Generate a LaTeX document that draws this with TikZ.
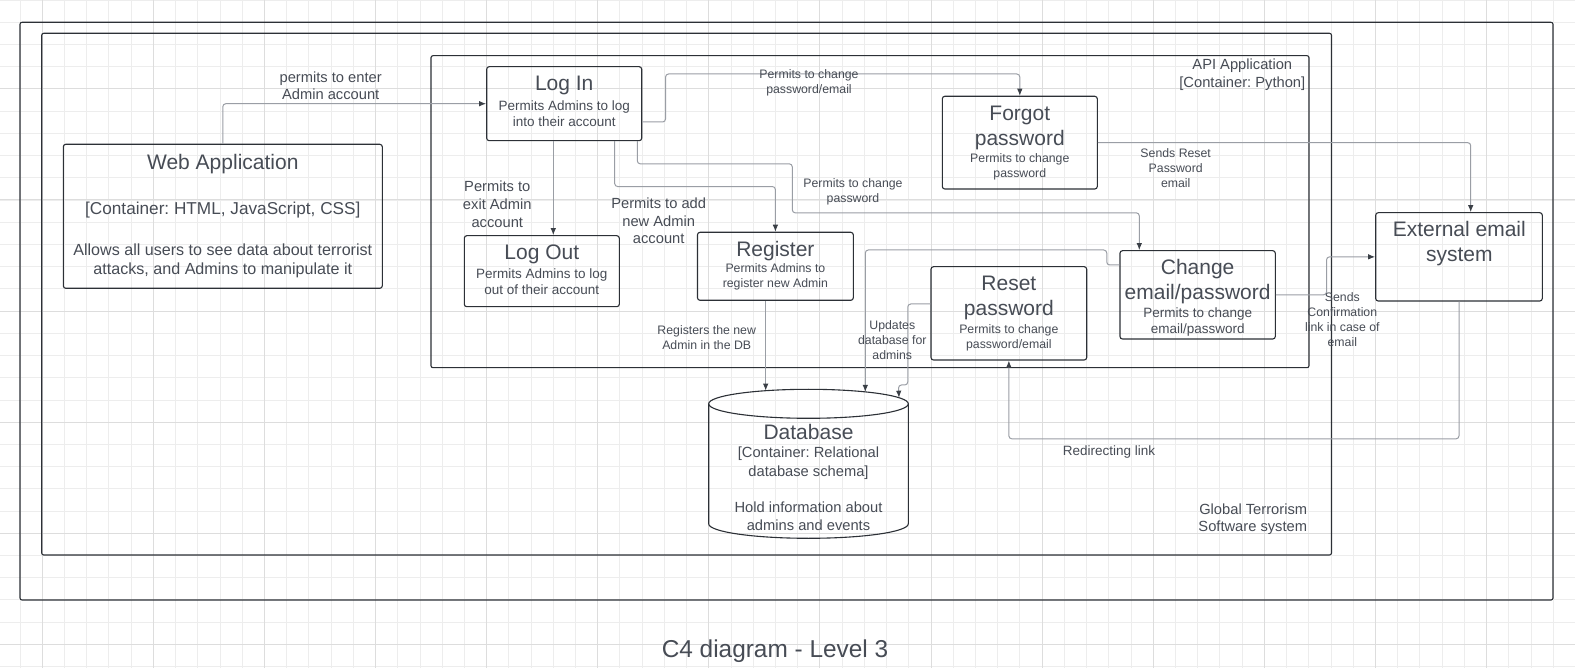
\documentclass[tikz,border=0pt]{standalone}
\usepackage{fontspec}
\setmainfont{Liberation Sans}
\usetikzlibrary{arrows.meta,calc}
\definecolor{txtc}{HTML}{474C55}
\definecolor{boxc}{HTML}{2C3036}
\definecolor{linec}{HTML}{9A9EA5}
\definecolor{arrc}{HTML}{3A3F46}
\definecolor{gridminor}{HTML}{EDEDED}
\definecolor{gridmajor}{HTML}{DDDDDD}
\frenchspacing
\begin{document}
\begin{tikzpicture}[x=1pt,y=-1pt,
  box/.style={draw=boxc, line width=1.1pt, rounded corners=2.5pt, inner sep=0pt},
  frame/.style={draw=boxc, line width=1.1pt, rounded corners=2pt},
  ttl/.style={text=txtc, align=center, inner sep=0pt, font=\fontsize{21}{25}\selectfont},
  dsc/.style={text=txtc, align=center, inner sep=0pt, font=\fontsize{13.5}{16}\selectfont},
  sdsc/.style={text=txtc, align=center, inner sep=0pt, font=\fontsize{12.3}{15}\selectfont},
  lbl/.style={text=txtc, align=center, inner sep=0pt, font=\fontsize{14.7}{17.6}\selectfont},
  conn/.style={draw=linec, line width=1pt, rounded corners=3pt, -{Latex[length=7pt,width=5.5pt,color=arrc]}}]
\useasboundingbox (0,0) rectangle (1575,668);
\fill[white] (0,0) rectangle (1575,668);
% grid
\begin{scope}
\clip (0,0) rectangle (1575,668);
\foreach \i in {0,...,70} \draw[gridminor, line width=0.9pt] (20+22.22*\i,0) -- (20+22.22*\i,668);
\foreach \j in {0,...,30} \draw[gridminor, line width=0.9pt] (0,22.22*\j) -- (1575,22.22*\j);
\foreach \i in {0,...,13} \draw[gridmajor, line width=0.9pt] (42.22+111.1*\i,0) -- (42.22+111.1*\i,668);
\foreach \j in {0,...,6} \draw[gridmajor, line width=0.9pt] (0,-22.3+111.1*\j) -- (1575,-22.3+111.1*\j);
\end{scope}
% containers
\draw[frame] (20,22.3) rectangle (1553,600);
\draw[frame] (41.7,33.3) rectangle (1331.5,555);
\draw[frame] (431,55.7) rectangle (1309,367.7);
\node[lbl] (apiT) at (1242.3,74.5) {API Application\\{}[Container: Python]};
\node[lbl, anchor=east, align=right] (sysT) at (1307.3,519.2) {Global Terrorism\\Software system};
% boxes
\node[box, minimum width=319pt, minimum height=144pt] (web) at (222.8,216.3) {};
\node[box, minimum width=155pt, minimum height=74pt] (login) at (564.2,103.7) {};
\node[box, minimum width=155pt, minimum height=71pt] (logout) at (541.8,271.2) {};
\node[box, minimum width=155.8pt, minimum height=68pt] (register) at (775.4,266.3) {};
\node[box, minimum width=155pt, minimum height=92.7pt] (forgot) at (1019.8,142.65) {};
\node[box, minimum width=155.7pt, minimum height=93.3pt] (reset) at (1008.85,313.35) {};
\node[box, minimum width=155.3pt, minimum height=88.3pt] (change) at (1197.65,294.85) {};
\node[box, minimum width=166.6pt, minimum height=88.3pt] (ext) at (1459,256.85) {};
\node[inner sep=0pt, minimum width=199.6pt, minimum height=149pt] (db) at (808.5,463.8) {};
% database cylinder
\draw[draw=boxc, line width=1.1pt] (708.7,403.8) -- (708.7,523.8) arc[start angle=180, end angle=360, x radius=99.8pt, y radius=14.5pt] -- (908.3,403.8);
\draw[draw=boxc, line width=1.1pt] (808.5,403.8) ellipse [x radius=99.8pt, y radius=14.5pt];
\coordinate (dbA) at (765.7,390.7);
\coordinate (dbB) at (865.3,391.9);
\coordinate (dbC) at (899,397.7);
% texts in boxes
\node[ttl] (webT) at (222.8,163.7) {Web Application};
\node[text=txtc, inner sep=0pt, font=\fontsize{17.2}{19.5}\selectfont] (webK) at (222.8,210) {[Container: HTML, JavaScript, CSS]};
\node[text=txtc, align=center, inner sep=0pt, font=\fontsize{16.1}{19.3}\selectfont] (webD) at (222.8,261) {Allows all users to see data about terrorist\\attacks, and Admins to manipulate it};
\node[ttl] (loginT) at (564.2,85.3) {Log In};
\node[dsc] (loginD) at (564.2,113.3) {Permits Admins to log\\into their account};
\node[ttl] (logoutT) at (541.8,254.3) {Log Out};
\node[dsc] (logoutD) at (541.8,282) {Permits Admins to log\\out of their account};
\node[ttl] (registerT) at (775.4,251) {Register};
\node[sdsc] (registerD) at (775.4,277.2) {Permits Admins to\\register new Admin};
\node[ttl] (forgotT) at (1019.8,127.8) {Forgot\\password};
\node[sdsc] (forgotD) at (1019.8,166.5) {Permits to change\\password};
\node[ttl] (resetT) at (1008.85,298.2) {Reset\\password};
\node[sdsc] (resetD) at (1008.85,337.5) {Permits to change\\password/email};
\node[ttl] (changeT) at (1197.65,281.8) {Change\\email/password};
\node[dsc] (changeD) at (1197.65,322) {Permits to change\\email/password};
\node[ttl] (extT) at (1459.3,243.7) {External email\\system};
\node[ttl] (dbT) at (808.5,431.7) {Database};
\node[lbl, font=\fontsize{14.7}{18.3}\selectfont] (dbK) at (808.5,463.2) {[Container: Relational\\database schema]};
\node[lbl, font=\fontsize{14.7}{17.7}\selectfont] (dbD) at (808.5,516.2) {Hold information about\\admins and events};
% connectors
\draw[conn] (web.north) |- (login.west);
\draw[conn] ([xshift=-10.9pt]login.south) -- ([xshift=-10.9pt]login.south |- logout.north);
\draw[conn] ([xshift=50.5pt]login.south) -- ++(0,45.3) -| (register.north);
\draw[conn] ([xshift=73.1pt]login.south) -- ++(0,22.6) -| ++(155,49) -| ([xshift=-58.35pt]change.north);
\draw[conn] ([yshift=-18.3pt]login.east) -- ++(23.3,0) -- ++(0,-48) -| (forgot.north);
\draw[conn] (forgot.east) -| ([xshift=11.7pt]ext.north);
\draw[conn] (change.east) -- ++(50.7,0) |- (ext.west);
\draw[conn] ([xshift=-9.7pt]register.south) -- (dbA);
\draw[conn] ([yshift=29.85pt]change.west) -- ++(-12.7,0) -- ++(0,-15) -| (dbB);
\draw[conn] ([yshift=9.35pt]reset.west) -- ++(-22.7,0) -- ++(0,81) -- ++(-9.3,0) -- (dbC);
\draw[conn] (ext.south) -- ++(0,137.3) -| (reset.south);
% connector labels
\node[lbl, font=\fontsize{14.7}{17.3}\selectfont] (l1) at (330.7,85.7) {permits to enter\\Admin account};
\node[lbl, font=\fontsize{14.7}{17.8}\selectfont] (l2) at (497.3,204) {Permits to\\exit Admin\\account};
\node[lbl, font=\fontsize{14.7}{17.7}\selectfont] (l3) at (658.7,221) {Permits to add\\new Admin\\account};
\node[sdsc] (l4) at (809,83.2) {Permits to change\\password/email};
\node[sdsc] (l5) at (853,192) {Permits to change\\password};
\node[sdsc] (l6) at (1175.7,168.3) {Sends Reset\\Password\\email};
\node[sdsc] (l7) at (1342.3,320) {Sends\\Confirmation\\link in case of\\email};
\node[sdsc] (l8) at (706.7,337.5) {Registers the new\\Admin in the DB};
\node[sdsc] (l9) at (892.3,340.3) {Updates\\database for\\admins};
\node[dsc] (l10) at (1109,452) {Redirecting link};
% title
\node[text=txtc, inner sep=0pt, font=\fontsize{24.4}{29}\selectfont] (title) at (775,651.5) {C4 diagram - Level 3};
\end{tikzpicture}
\end{document}
